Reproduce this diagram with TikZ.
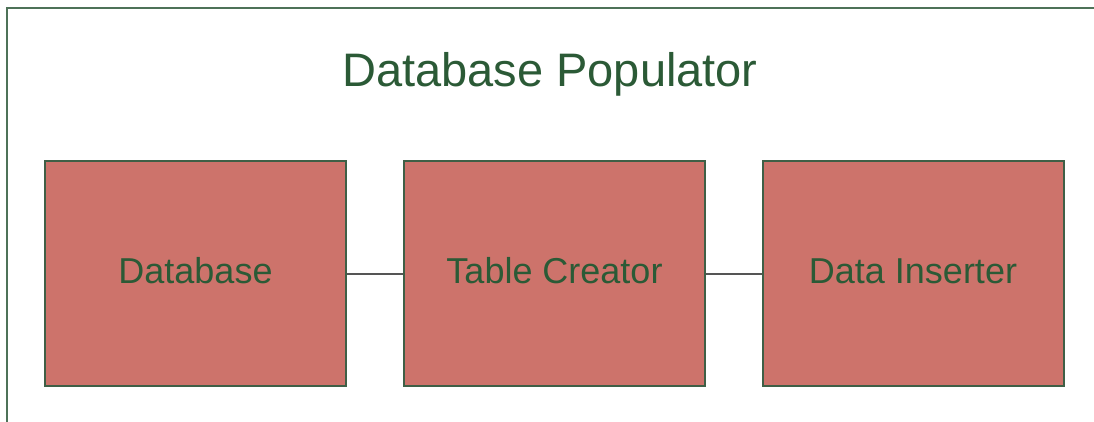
\documentclass[tikz,border=0pt]{standalone}
\usepackage{fontspec}
\setmainfont{Liberation Sans}
\definecolor{framegreen}{HTML}{4E7258}
\definecolor{textgreen}{HTML}{2B5A36}
\definecolor{boxfill}{HTML}{CD736B}
\definecolor{boxedge}{HTML}{3F5F46}
\definecolor{linkgray}{HTML}{555555}
\begin{document}
\begin{tikzpicture}[x=1pt,y=-1pt,
  module/.style={draw=boxedge, line width=2pt, fill=boxfill, minimum width=301pt, minimum height=224pt, inner sep=0pt, anchor=center},
  label/.style={text=textgreen, font=\fontsize{36}{40}\selectfont, anchor=base},
  link/.style={draw=linkgray, line width=2pt}]
  \useasboundingbox (0,0) rectangle (1094,422);
  \fill[white] (0,0) rectangle (1094,422);
  % outer frame, open to the right and bottom
  \draw[framegreen, line width=2pt] (7,422) -- (7,8.5) -- (1094,8.5);
  % title
  \node[text=textgreen, font=\fontsize{47}{52}\selectfont, anchor=base] (title) at (550,87) {Database Populator};
  % modules
  \node[module] (db) at (195.5,273.5) {};
  \node[module] (tc) at (554.5,273.5) {};
  \node[module] (di) at (913,273.5) {};
  \node[label] (dbl) at (195.5,283) {Database};
  \node[label] (tcl) at (554.5,283) {Table Creator};
  \node[label] (dil) at (913,283) {Data Inserter};
  % links
  \draw[link] (db.east) -- (tc.west);
  \draw[link] (tc.east) -- (di.west);
\end{tikzpicture}
\end{document}
